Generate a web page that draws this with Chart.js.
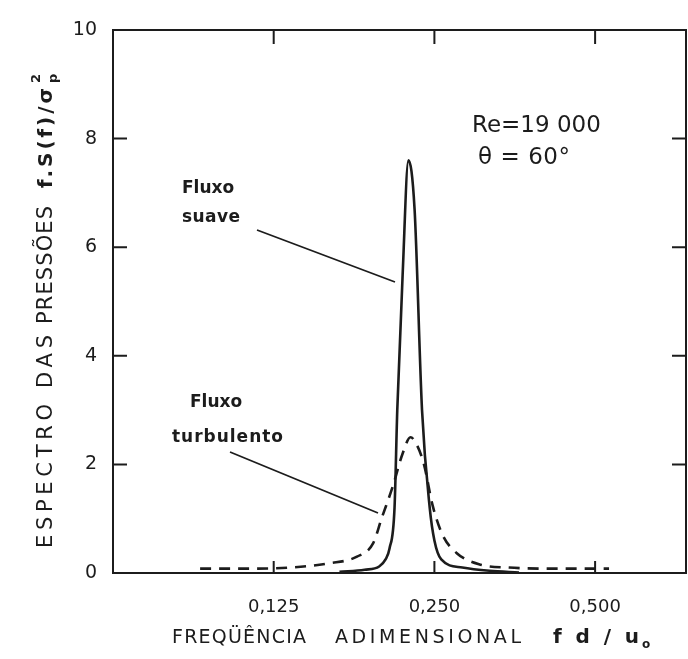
<!DOCTYPE html>
<html>
<head>
<meta charset="utf-8">
<script src="https://cdn.jsdelivr.net/npm/chart.js@4.4.0/dist/chart.umd.min.js"></script>
<style>
  html, body { margin: 0; padding: 0; background: #fff; }
  #wrap { width: 688px; height: 659px; }
</style>
</head>
<body>
<div id="wrap"><canvas id="spectrumChart"></canvas></div>
<script>
// Data (frequency fd/u0, spectrum f.S(f)/sigma_p^2)
const smoothFreq = [0.166, 0.185, 0.197, 0.2025, 0.206, 0.2105, 0.213, 0.218, 0.2235, 0.2295, 0.237, 0.245, 0.25, 0.2575, 0.282, 0.317, 0.36];
const smoothVals = [0.02, 0.06, 0.12, 0.25, 0.45, 1.2, 3.0, 5.5, 7.6, 6.7, 3.0, 1.2, 0.6, 0.25, 0.1, 0.04, 0.01];

const turbFreq = [0.091, 0.113, 0.134, 0.159, 0.179, 0.192, 0.199, 0.209, 0.218, 0.2255, 0.232, 0.239, 0.248, 0.259, 0.275, 0.303, 0.345, 0.429, 0.531];
const turbVals = [0.08, 0.08, 0.1, 0.18, 0.3, 0.55, 1.0, 1.6, 2.2, 2.5, 2.35, 2.0, 1.25, 0.7, 0.37, 0.16, 0.1, 0.08, 0.08];

const xTicks = [0.125, 0.25, 0.5];
const yTicks = [0, 2, 4, 6, 8, 10];

const ink = '#1c1c1c';
const font = '"DejaVu Sans", sans-serif';

function toPoints(xs, ys) {
    return xs.map((x, i) => ({ x: x, y: ys[i] }));
}

// draw text stretched (by letter spacing) to span a given width
function fitText(ctx, text, x, y, width) {
    ctx.letterSpacing = '0px';
    const w = ctx.measureText(text).width;
    const gap = Math.max(0, (width - w) / Math.max(1, text.length - 1));
    ctx.letterSpacing = gap + 'px';
    ctx.fillText(text, x, y);
    ctx.letterSpacing = '0px';
}

// frame, inward ticks and hand-lettered notes
const decorations = {
    id: 'decorations',
    afterDraw(chart) {
        const ctx = chart.ctx;
        const a = chart.chartArea;
        const xs = chart.scales.x;
        const ys = chart.scales.y;
        ctx.save();
        ctx.strokeStyle = ink;
        ctx.fillStyle = ink;
        ctx.lineWidth = 2;
        ctx.strokeRect(a.left, a.top, a.right - a.left, a.bottom - a.top);

        ctx.beginPath();
        [2, 4, 6, 8].forEach(v => {
            const py = ys.getPixelForValue(v);
            ctx.moveTo(a.left, py); ctx.lineTo(a.left + 14, py);
            ctx.moveTo(a.right, py); ctx.lineTo(a.right - 14, py);
        });
        xTicks.forEach(v => {
            const px = xs.getPixelForValue(v);
            ctx.moveTo(px, a.top); ctx.lineTo(px, a.top + 14);
            ctx.moveTo(px, a.bottom); ctx.lineTo(px, a.bottom - 12);
        });
        ctx.stroke();

        // leader lines
        ctx.lineWidth = 1.8;
        ctx.beginPath();
        ctx.moveTo(257, 230); ctx.lineTo(395, 282);
        ctx.moveTo(230, 452); ctx.lineTo(378, 513);
        ctx.stroke();

        ctx.textBaseline = 'middle';
        ctx.textAlign = 'left';
        ctx.font = '23px ' + font;
        fitText(ctx, 'Re=19 000', 472, 126, 124);
        fitText(ctx, '\u03b8 = 60\u00b0', 478, 158, 92);

        ctx.font = 'bold 17px ' + font;
        fitText(ctx, 'Fluxo', 182, 189, 50);
        fitText(ctx, 'suave', 182, 218, 58);
        fitText(ctx, 'Fluxo', 190, 403, 50);
        fitText(ctx, 'turbulento', 172, 438, 111);

        // x axis title
        ctx.font = '19px ' + font;
        fitText(ctx, 'FREQ\u00dc\u00caNCIA', 172, 638, 134);
        fitText(ctx, 'ADIMENSIONAL', 335, 638, 186);
        ctx.font = 'bold 20px ' + font;
        fitText(ctx, 'fd/u', 553, 638, 86);
        ctx.font = 'bold 12px ' + font;
        ctx.fillText('o', 642, 645);

        // y axis title (rotated)
        ctx.translate(47, 0);
        ctx.rotate(-Math.PI / 2);
        ctx.font = '21px ' + font;
        fitText(ctx, 'ESPECTRO DAS', -548, 0, 213);
        fitText(ctx, 'PRESS\u00d5ES', -324, 0, 118);
        ctx.font = 'bold 20px ' + font;
        fitText(ctx, 'f.S(f)/\u03c3', -188, 0, 100);
        ctx.font = 'bold 13px ' + font;
        ctx.fillText('2', -83, -10);
        ctx.fillText('p', -83, 7);
        ctx.restore();
    }
};

const chartData = {
    datasets: [
        {
            label: 'Fluxo suave',
            data: toPoints(smoothFreq, smoothVals),
            borderColor: ink,
            borderWidth: 2.6,
            pointRadius: 0,
            cubicInterpolationMode: 'monotone'
        },
        {
            label: 'Fluxo turbulento',
            data: toPoints(turbFreq, turbVals),
            borderColor: ink,
            borderWidth: 2.6,
            borderDash: [11, 8],
            pointRadius: 0,
            cubicInterpolationMode: 'monotone'
        }
    ]
};

new Chart(document.getElementById('spectrumChart').getContext('2d'), {
    type: 'line',
    data: chartData,
    options: {
        responsive: true,
        maintainAspectRatio: false,
        animation: false,
        layout: { padding: { top: 30, right: 2, left: 0, bottom: 0 } },
        plugins: { legend: { display: false }, tooltip: { enabled: false } },
        scales: {
            x: {
                type: 'logarithmic',
                min: 0.0625,
                max: 0.74,
                afterBuildTicks: scale => { scale.ticks = xTicks.map(v => ({ value: v })); },
                afterFit: scale => { scale.height = 86; },
                grid: { display: false },
                border: { display: false },
                ticks: {
                    autoSkip: false,
                    maxRotation: 0,
                    padding: 16,
                    color: ink,
                    font: { family: font, size: 18 },
                    callback: v => v.toFixed(3).replace('.', ',')
                }
            },
            y: {
                min: 0,
                max: 10,
                afterBuildTicks: scale => { scale.ticks = yTicks.map(v => ({ value: v })); },
                afterFit: scale => { scale.width = 113; },
                grid: { display: false },
                border: { display: false },
                ticks: {
                    padding: 8,
                    color: ink,
                    font: { family: font, size: 19 }
                }
            }
        }
    },
    plugins: [decorations]
});
</script>
</body>
</html>
